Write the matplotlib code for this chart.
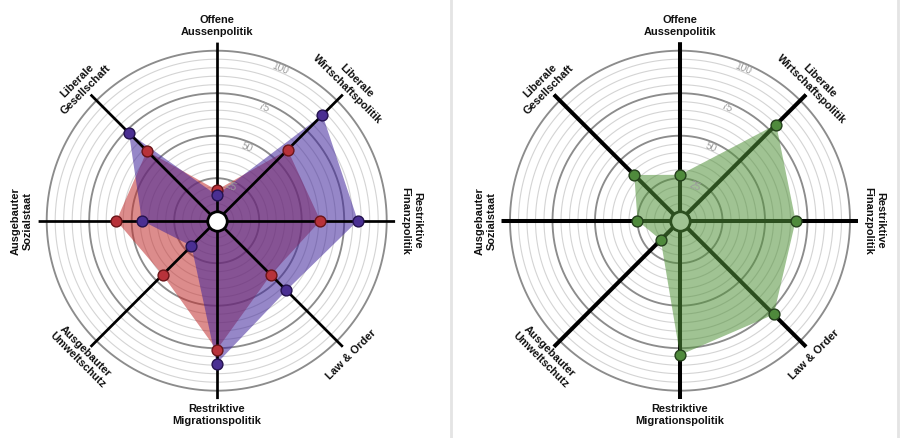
import numpy as np
import matplotlib
matplotlib.use("Agg")
import matplotlib.pyplot as plt
from matplotlib.lines import Line2D

plt.rcParams['font.family'] = ['Liberation Sans', 'DejaVu Sans']

categories = ["Offene\nAussenpolitik", "Liberale\nWirtschaftspolitik",
              "Restriktive\nFinanzpolitik", "Law & Order",
              "Restriktive\nMigrationspolitik", "Ausgebauter\nUmweltschutz",
              "Ausgebauter\nSozialstaat", "Liberale\nGesellschaft"]
red_values = [18, 59, 61, 45, 76, 45, 59, 58]
purple_values = [15, 88, 83, 58, 84, 21, 44, 73]
green_values = [27, 80, 68, 78, 79, 16, 25, 38]
tick_values = [25, 50, 75, 100]

W, H = 900, 438
fig = plt.figure(figsize=(W / 100, H / 100), dpi=100)
fig.patch.set_facecolor('white')

R_PX = 178.5  # axes radius in px (=105 units)


def make_ax(cx, cy):
    x0 = (cx - R_PX) / W
    y0 = (H - cy - R_PX) / H
    ax = fig.add_axes([x0, y0, 2 * R_PX / W, 2 * R_PX / H], projection='polar')
    ax.set_theta_zero_location('N')
    ax.set_theta_direction(-1)
    ax.set_ylim(0, 105)
    ax.axis('off')
    return ax


def draw_panel(ax, series, axis_lw, lines_on_top, circle_on_top):
    n = len(categories)
    angles = np.arange(n) * 2 * np.pi / n
    full = np.linspace(0, 2 * np.pi, 400)
    for v in range(5, 101, 5):
        if v % 25 == 0:
            ax.plot(full, np.full_like(full, v), color='#8c8c8c', lw=1.35, zorder=1)
        else:
            ax.plot(full, np.full_like(full, v), color='#d4d4d4', lw=0.8, zorder=1)
    lz = 4 if lines_on_top else 2
    for a in angles:
        ax.plot([a, a], [0, 105], color='black', lw=axis_lw,
                solid_capstyle='butt', zorder=lz)
    cz = 6 if circle_on_top else 2.5
    ax.plot([0], [0], 'o', ms=14, mfc='white', mec='black', mew=2.0, zorder=cz)
    for vals, fcol, mcol, ecol in series:
        th = np.append(angles, angles[0])
        rr = np.append(vals, vals[0])
        ax.fill(th, rr, color=fcol, alpha=0.55, lw=0, zorder=3)
    for vals, fcol, mcol, ecol in series:
        ax.plot(angles, vals, 'o', ls='none', ms=7.8, mfc=mcol, mec=ecol,
                mew=1.0, zorder=5)
    for v in tick_values:
        ax.text(np.deg2rad(22.5), v - 3, str(v), rotation=-22.5, ha='center',
                va='center', color='#9c9c9c', fontsize=7.3, zorder=7,
                rotation_mode='anchor')
    for i, lab in enumerate(categories):
        deg = i * 360 / n
        if deg <= 90 or deg >= 270:
            rot = -deg
        else:
            rot = 180 - deg
        if '\n' not in lab:
            r = 111.5
        elif i % 2 == 1:
            r = 112.5
        else:
            r = 114.5
        ax.text(np.deg2rad(deg), r, lab, rotation=rot, rotation_mode='anchor',
                ha='center', va='center', fontsize=7.9, fontweight='bold',
                linespacing=1.25, color='#111111')


ax1 = make_ax(216.7, 220.7)
draw_panel(ax1, [
    (red_values, '#c02e2e', '#b8323a', '#6a1418'),
    (purple_values, '#40259b', '#4a2f92', '#24124f'),
], axis_lw=1.95, lines_on_top=True, circle_on_top=True)

ax2 = make_ax(680, 220.7)
draw_panel(ax2, [
    (green_values, '#52923a', '#4f8a3c', '#233f1b'),
], axis_lw=2.9, lines_on_top=False, circle_on_top=False)

for xp in (450.5, 897.5):
    fig.add_artist(Line2D([xp / W, xp / W], [0, 1], color='#e4e4e4', lw=2.0))

fig.savefig('out.png', dpi=100, facecolor='white')
